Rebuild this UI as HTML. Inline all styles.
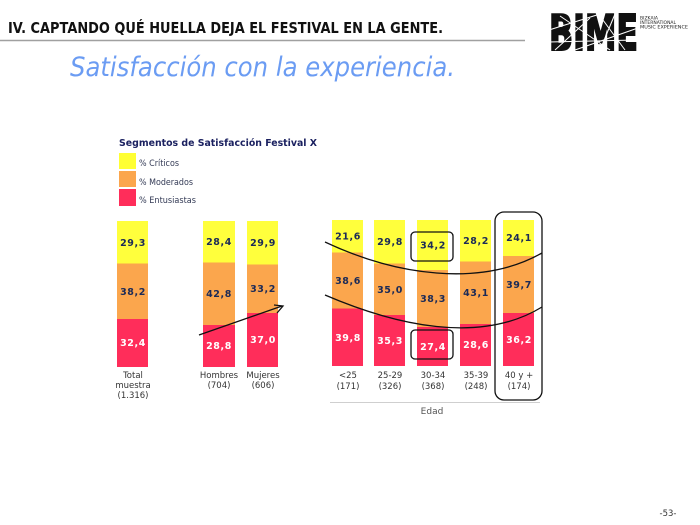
<!DOCTYPE html>
<html><head><meta charset="utf-8">
<style>
html,body{margin:0;padding:0;background:#fff;}
svg{display:block;}
text{font-family:"DejaVu Sans","Liberation Sans",sans-serif;}
</style></head>
<body>
<svg width="700" height="525" viewBox="0 0 700 525" xmlns="http://www.w3.org/2000/svg">
<rect width="700" height="525" fill="#fff"/>
<!-- header -->
<text x="8" y="33" font-size="15" font-weight="bold" fill="#111" textLength="435" lengthAdjust="spacingAndGlyphs">IV. CAPTANDO QUÉ HUELLA DEJA EL FESTIVAL EN LA GENTE.</text>
<line x1="0" y1="40.5" x2="525" y2="40.5" stroke="#a0a0a0" stroke-width="1.5"/>
<text x="70" y="76" font-size="27" font-style="italic" fill="#6b9cf3" textLength="385" lengthAdjust="spacingAndGlyphs">Satisfacción con la experiencia.</text>

<!-- logo -->
<text x="549" y="50" font-size="49" font-weight="bold" fill="#111" stroke="#111" stroke-width="2" textLength="89" lengthAdjust="spacingAndGlyphs">BIME</text>
<g stroke="#fff" stroke-width="1" fill="none">
<line x1="549" y1="30" x2="600" y2="14"/>
<line x1="555" y1="50" x2="590" y2="18"/>
<line x1="560" y1="16" x2="610" y2="50"/>
<line x1="575" y1="50" x2="638" y2="28"/>
<line x1="600" y1="16" x2="625" y2="50"/>
<line x1="549" y1="42" x2="638" y2="40"/>
<line x1="615" y1="14" x2="600" y2="50"/>
</g>
<text x="640" y="19.5" font-size="4.6" fill="#222" textLength="18" lengthAdjust="spacingAndGlyphs">BIZKAIA</text>
<text x="640" y="24" font-size="4.6" fill="#222" textLength="36" lengthAdjust="spacingAndGlyphs">INTERNATIONAL</text>
<text x="640" y="28.5" font-size="4.6" fill="#222" textLength="48" lengthAdjust="spacingAndGlyphs">MUSIC EXPERIENCE</text>

<!-- legend -->
<text x="119" y="146" font-size="10" font-weight="bold" fill="#1b2160" textLength="198" lengthAdjust="spacingAndGlyphs">Segmentos de Satisfacción Festival X</text>
<rect x="119" y="153" width="17" height="16" fill="#ffff33"/>
<rect x="119" y="171" width="17" height="16" fill="#fba64d"/>
<rect x="119" y="189" width="17" height="17" fill="#ff2d5a"/>
<g font-size="8.5" fill="#333a55">
<text x="139" y="166" textLength="40" lengthAdjust="spacingAndGlyphs">% Críticos</text>
<text x="139" y="185" textLength="54" lengthAdjust="spacingAndGlyphs">% Moderados</text>
<text x="139" y="203" textLength="57" lengthAdjust="spacingAndGlyphs">% Entusiastas</text>
</g>

<!-- bars -->
<g>
<!-- Total -->
<rect x="117" y="221" width="31" height="42.5" fill="#ffff3c"/>
<rect x="117" y="263.5" width="31" height="55.5" fill="#fba64d"/>
<rect x="117" y="319" width="31" height="48" fill="#ff2d5a"/>
<!-- Hombres -->
<rect x="203" y="221" width="32" height="41.5" fill="#ffff3c"/>
<rect x="203" y="262.5" width="32" height="62.5" fill="#fba64d"/>
<rect x="203" y="325" width="32" height="42" fill="#ff2d5a"/>
<!-- Mujeres -->
<rect x="247" y="221" width="31" height="43.5" fill="#ffff3c"/>
<rect x="247" y="264.5" width="31" height="48.5" fill="#fba64d"/>
<rect x="247" y="313" width="31" height="54" fill="#ff2d5a"/>
<!-- <25 -->
<rect x="332" y="220" width="31" height="32.5" fill="#ffff3c"/>
<rect x="332" y="252.5" width="31" height="56" fill="#fba64d"/>
<rect x="332" y="308.5" width="31" height="57.5" fill="#ff2d5a"/>
<!-- 25-29 -->
<rect x="374" y="220" width="31" height="43.5" fill="#ffff3c"/>
<rect x="374" y="263.5" width="31" height="51.5" fill="#fba64d"/>
<rect x="374" y="315" width="31" height="51" fill="#ff2d5a"/>
<!-- 30-34 -->
<rect x="417" y="220" width="31" height="50" fill="#ffff3c"/>
<rect x="417" y="270" width="31" height="57" fill="#fba64d"/>
<rect x="417" y="327" width="31" height="39" fill="#ff2d5a"/>
<!-- 35-39 -->
<rect x="460" y="220" width="31" height="41.5" fill="#ffff3c"/>
<rect x="460" y="261.5" width="31" height="62.5" fill="#fba64d"/>
<rect x="460" y="324" width="31" height="42" fill="#ff2d5a"/>
<!-- 40 y + -->
<rect x="503" y="220" width="31" height="36" fill="#ffff3c"/>
<rect x="503" y="256" width="31" height="57" fill="#fba64d"/>
<rect x="503" y="313" width="31" height="53" fill="#ff2d5a"/>
</g>

<!-- values -->
<g font-size="9.5" font-weight="bold" text-anchor="middle" fill="#1b2a57" letter-spacing="0.6">
<text x="133" y="246">29,3</text>
<text x="133" y="295">38,2</text>
<text x="133" y="346" fill="#fff">32,4</text>
<text x="219" y="245">28,4</text>
<text x="219" y="297">42,8</text>
<text x="219" y="349" fill="#fff">28,8</text>
<text x="263" y="246">29,9</text>
<text x="263" y="292">33,2</text>
<text x="263" y="343" fill="#fff">37,0</text>
<text x="348" y="239.5">21,6</text>
<text x="348" y="284">38,6</text>
<text x="348" y="341" fill="#fff">39,8</text>
<text x="390" y="245">29,8</text>
<text x="390" y="293">35,0</text>
<text x="390" y="344" fill="#fff">35,3</text>
<text x="433" y="248.5">34,2</text>
<text x="433" y="302">38,3</text>
<text x="433" y="350" fill="#fff">27,4</text>
<text x="476" y="244">28,2</text>
<text x="476" y="296">43,1</text>
<text x="476" y="348" fill="#fff">28,6</text>
<text x="519" y="241">24,1</text>
<text x="519" y="288">39,7</text>
<text x="519" y="343" fill="#fff">36,2</text>
</g>

<!-- category labels -->
<g font-size="8.5" text-anchor="middle" fill="#333">
<text x="133" y="378">Total</text>
<text x="133" y="388">muestra</text>
<text x="133" y="398">(1.316)</text>
<text x="219" y="378">Hombres</text>
<text x="219" y="388">(704)</text>
<text x="263" y="378">Mujeres</text>
<text x="263" y="388">(606)</text>
<text x="348" y="378">&lt;25</text>
<text x="348" y="389">(171)</text>
<text x="390" y="378">25-29</text>
<text x="390" y="389">(326)</text>
<text x="433" y="378">30-34</text>
<text x="433" y="389">(368)</text>
<text x="476" y="378">35-39</text>
<text x="476" y="389">(248)</text>
<text x="519" y="378">40 y +</text>
<text x="519" y="389">(174)</text>
</g>
<line x1="330" y1="402.5" x2="540" y2="402.5" stroke="#cfcfcf" stroke-width="1"/>
<text x="432" y="414" font-size="9" text-anchor="middle" fill="#555">Edad</text>

<!-- annotations -->
<g fill="none" stroke="#111" stroke-width="1.3">
<path d="M325,242 C395,275 480,288 542,253"/>
<path d="M325,295 C395,325 480,345 542,307"/>
<rect x="411" y="232" width="42" height="29" rx="4"/>
<rect x="411" y="330" width="42" height="29" rx="4"/>
<rect x="495" y="212" width="47" height="188" rx="9"/>
<line x1="199" y1="335" x2="282" y2="306"/>
<path d="M274,305 L283,306 L277,313"/>
</g>

<text x="668" y="516" font-size="8.5" text-anchor="middle" fill="#333">-53-</text>
</svg>
</body></html>
